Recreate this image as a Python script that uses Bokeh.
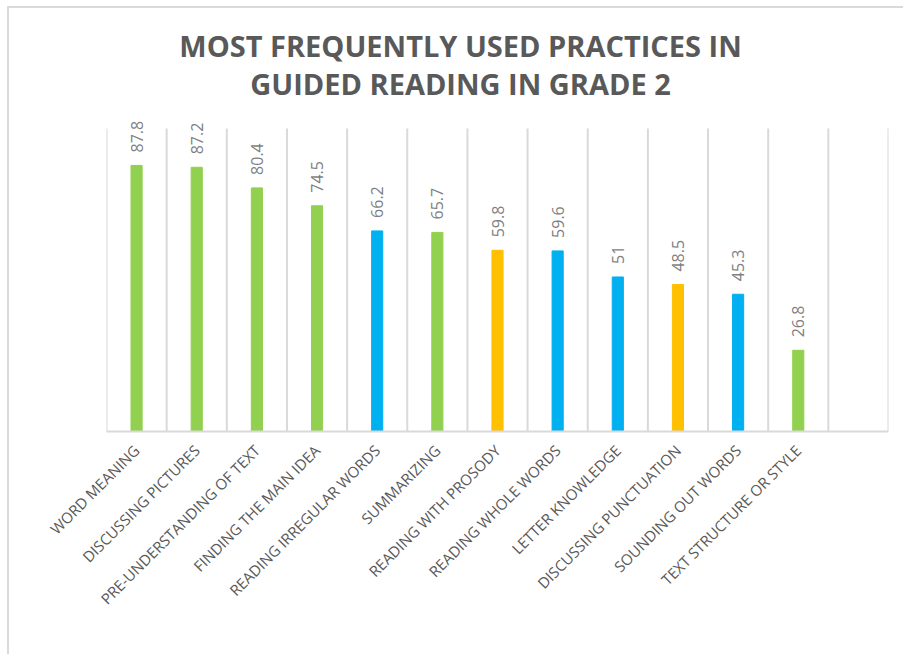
import math
from bokeh.plotting import figure
from bokeh.models import FixedTicker, Label, ColumnDataSource, Range1d
from bokeh.core.properties import value
from bokeh.embed import file_html
from bokeh.resources import INLINE

title_line1 = "MOST FREQUENTLY USED PRACTICES IN"
title_line2 = "GUIDED READING IN GRADE 2"

categories = [
    "WORD MEANING", "DISCUSSING PICTURES", "PRE-UNDERSTANDING OF TEXT",
    "FINDING THE MAIN IDEA", "READING IRREGULAR WORDS", "SUMMARIZING",
    "READING WITH PROSODY", "READING WHOLE WORDS", "LETTER KNOWLEDGE",
    "DISCUSSING PUNCTUATION", "SOUNDING OUT WORDS", "TEXT STRUCTURE OR STYLE",
]
values = [87.8, 87.2, 80.4, 74.5, 66.2, 65.7, 59.8, 59.6, 51, 48.5, 45.3, 26.8]
value_labels = ["87.8", "87.2", "80.4", "74.5", "66.2", "65.7", "59.8", "59.6", "51", "48.5", "45.3", "26.8"]
groups = ["green", "green", "green", "green", "blue", "green", "yellow", "blue", "blue", "yellow", "blue", "green"]
n_slots = 13  # one empty slot at the right
y_max = 100

palette = {"green": "#92D050", "blue": "#00B0F0", "yellow": "#FFC000"}

xs = [i + 0.5 for i in range(len(categories))]
source = ColumnDataSource(dict(
    x=xs, top=values, label=value_labels,
    color=[palette[g] for g in groups],
))

# frame spans from the top of the figure so titles and labels are not clipped
frame_h = 423
plot_h = 303  # pixels for 0..100
y_end = y_max * frame_h / plot_h

p = figure(width=896, height=648, output_backend="svg", toolbar_location=None,
           x_range=Range1d(0, n_slots), y_range=Range1d(0, y_end),
           min_border_left=97, min_border_right=17, min_border_top=0,
           min_border_bottom=225)
p.title.visible = False
p.outline_line_color = None
p.background_fill_color = "white"
p.border_fill_color = "white"
p.styles = {"border-top": "2px solid #D9D9D9", "border-left": "2px solid #D9D9D9",
            "margin-top": "6px", "margin-left": "7px"}

# category separators
bounds = list(range(n_slots + 1))
p.segment(x0=bounds, y0=[0] * len(bounds), x1=bounds, y1=[y_max] * len(bounds),
          line_color="#D9D9D9", line_width=2)

p.vbar(x="x", top="top", bottom=0, width=0.185, color="color", source=source)
p.text(x="x", y="top", text="label", source=source, angle=math.pi / 2,
       text_align="left", text_baseline="middle", y_offset=-13,
       text_font=value("Open Sans"), text_font_size="16px", text_color="#7F7F7F")

# axes
p.yaxis.visible = False
p.grid.visible = False
p.xaxis.ticker = FixedTicker(ticks=xs)
p.xaxis.major_label_overrides = {x: c for x, c in zip(xs, categories)}
p.xaxis.major_label_orientation = math.pi / 4
p.xaxis.major_label_text_font = "Open Sans"
p.xaxis.major_label_text_font_size = "15px"
p.xaxis.major_label_text_color = "#595959"
p.xaxis.major_label_standoff = 10
p.xaxis.major_tick_line_color = None
p.xaxis.minor_tick_line_color = None
p.xaxis.axis_line_color = "#D9D9D9"
p.xaxis.axis_line_width = 2

title_x = 5.885  # horizontal centre of the title, in data units
for txt, off in [(title_line1, 83), (title_line2, 45)]:
    p.add_layout(Label(x=title_x, y=y_max, y_offset=off, text=txt,
                       text_align="center", text_baseline="middle",
                       text_font="Open Sans", text_font_size="29px",
                       text_font_style="bold", text_color="#595959"))

open("out.html", "w").write(file_html(p, INLINE))
